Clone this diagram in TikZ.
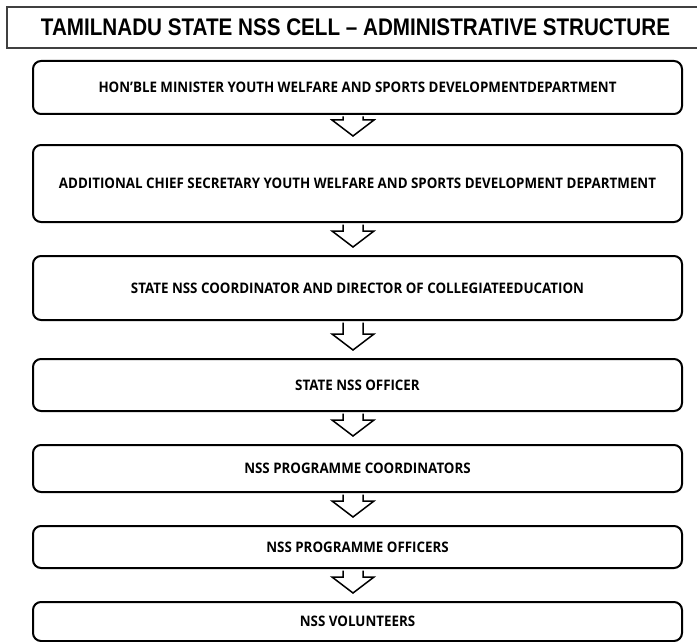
\documentclass[tikz,border=0pt]{standalone}
\usepackage{fontspec}
\newfontfamily\titlefont{Liberation Sans}[FakeStretch=0.86]
\newfontfamily\boxfont{Open Sans}[FakeStretch=0.92]
\usetikzlibrary{calc}
\begin{document}
\begin{tikzpicture}[x=1pt,y=1pt,
  box/.style={draw, line width=2pt, rounded corners=8pt, minimum width=649pt,
    font=\boxfont\bfseries\fontsize{14.5}{17}\selectfont},
  blockarr/.style={draw, fill=white, line width=1.5pt, line join=miter,
    to path={let \p1=(\tikztostart.south), \p2=(\tikztotarget.north) in
      (\x1-14.5pt,\y1-1.5pt) -- (\x1-14.5pt,\y2+24pt) -- (\x1-25.5pt,\y2+24pt)
      -- (\x1-4.5pt,\y2+8pt) -- (\x1+16.5pt,\y2+24pt) -- (\x1+5.5pt,\y2+24pt)
      -- (\x1+5.5pt,\y1-1.5pt)}}]
\useasboundingbox (0,0) rectangle (697,-642);
\node[draw=darkgray, line width=1.3pt, minimum width=697pt, minimum height=41pt,
  font=\titlefont\bfseries\fontsize{24}{28}\selectfont] (t) at (355.5,-27.5)
  {TAMILNADU STATE NSS CELL – ADMINISTRATIVE STRUCTURE};
\node[box, minimum height=53pt] (1) at (357.5,-87.5) {HON’BLE MINISTER YOUTH WELFARE AND SPORTS DEVELOPMENTDEPARTMENT};
\node[box, minimum height=77pt] (2) at (357.5,-183.5) {ADDITIONAL CHIEF SECRETARY YOUTH WELFARE AND SPORTS DEVELOPMENT DEPARTMENT};
\node[box, minimum height=64pt] (3) at (357.5,-288) {STATE NSS COORDINATOR AND DIRECTOR OF COLLEGIATEEDUCATION};
\node[box, minimum height=52pt] (4) at (357.5,-385) {STATE NSS OFFICER};
\node[box, minimum height=47pt] (5) at (357.5,-468.5) {NSS PROGRAMME COORDINATORS};
\node[box, minimum height=42pt] (6) at (357.5,-547) {NSS PROGRAMME OFFICERS};
\node[box, minimum height=39pt] (7) at (357.5,-621.5) {NSS VOLUNTEERS};
\path[blockarr] (1) to (2);
\path[blockarr] (2) to (3);
\path[blockarr] (3) to (4);
\path[blockarr] (4) to (5);
\path[blockarr] (5) to (6);
\path[blockarr] (6) to (7);
\end{tikzpicture}
\end{document}
